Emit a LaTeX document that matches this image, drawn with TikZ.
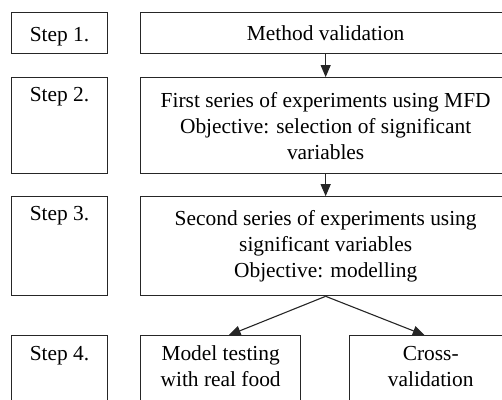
\documentclass[tikz,border=0pt]{standalone}
\usepackage{fontspec}
\setmainfont{Liberation Serif}
\newfontfamily\stepfont{Liberation Serif}
\usetikzlibrary{arrows.meta, positioning}

\begin{document}
\begin{tikzpicture}[x=1pt, y=-1pt, node distance=23pt and 32pt,
  every node/.style={font=\stepfont\fontsize{21.4}{26}\selectfont, align=center},
  stepbox/.style={draw=black!85, line width=1.1pt, rectangle, inner sep=0pt, minimum width=96pt, text height=24pt},
  mainbox/.style={draw=black!85, line width=1.1pt, rectangle, inner sep=0pt, minimum width=370pt},
  >={Triangle[length=12pt, width=10pt]}]
  \useasboundingbox (0,0) rectangle (502,399);
  \clip (0,0) rectangle (502,399);

  \node (s1) [stepbox, text height=29pt, text depth=12pt, anchor=north west] at (11,12) {Step 1.};
  \node (m1) [mainbox, minimum height=41pt, right=32pt of s1] {Method validation};

  \node (s2) [stepbox, text depth=72pt, below=23pt of s1] {Step 2.};
  \node (m2) [mainbox, minimum height=96pt, right=32pt of s2]
    {First series of experiments using MFD\\Objective: selection of significant\\variables};

  \node (s3) [stepbox, text depth=75pt, below=22pt of s2] {Step 3.};
  \node (m3) [mainbox, minimum height=99pt, right=32pt of s3]
    {Second series of experiments using\\significant variables\\Objective: modelling};

  \node (s4) [stepbox, text height=25pt, text depth=60pt, below=39pt of s3] {Step 4.};
  \node (m4a) [mainbox, minimum width=160pt, text height=51pt, text depth=34pt, right=32pt of s4]
    {Model testing\\with real food};
  \node (m4b) [mainbox, minimum width=162pt, text height=51pt, text depth=34pt, right=48pt of m4a]
    {Cross-\\validation};

  \draw [->, line width=1.1pt, black!85] (m1) -- (m2);
  \draw [->, line width=1.1pt, black!85] (m2) -- (m3);
  \draw [->, line width=1.1pt, black!85] (m3.south) -- ([xshift=8pt]m4a.north);
  \draw [->, line width=1.1pt, black!85] (m3.south) -- ([xshift=-6pt]m4b.north);
\end{tikzpicture}
\end{document}
